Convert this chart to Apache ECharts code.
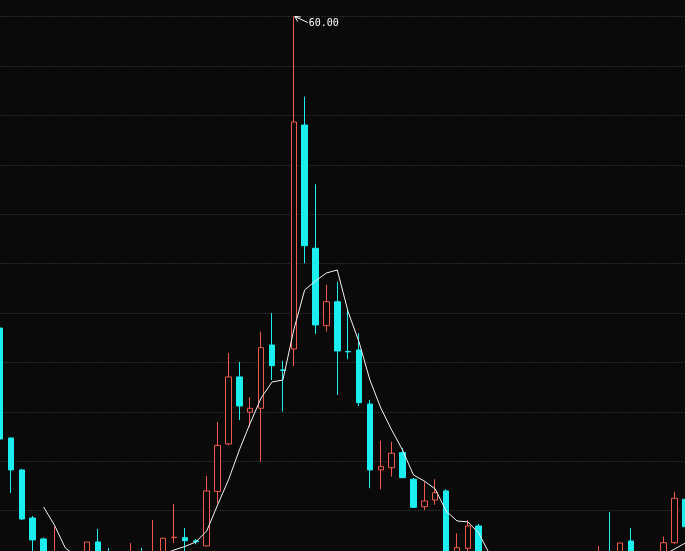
<!DOCTYPE html>
<html><head><meta charset="utf-8">
<script src="https://cdn.jsdelivr.net/npm/echarts@6/dist/echarts.min.js"></script>
<style>html,body{margin:0;padding:0;background:#0a0a0a}#c{width:685px;height:551px}</style>
</head><body><div id="c"></div>
<script>
const categories = ['1','2','3','4','5','6','7','8','9','10','11','12','13','14','15','16','17','18','19','20','21','22','23','24','25','26','27','28','29','30','31','32','33','34','35','36','37','38','39','40','41','42','43','44','45','46','47','48','49','50','51','52','53','54','55','56','57','58','59','60','61','62','63','64'];

const opens = [28.48,17.36,14.12,9.26,7.14,5.2,5.4,4.9,5.3,6.83,5.8,5.5,5.4,5.8,5.5,5.6,7.27,7.27,6.95,6.43,
  11.94,16.75,23.53,19.96,20.36,26.76,24.24,26.36,49.02,36.55,28.72,31.14,26.11,26.26,20.79,14.12,14.35,15.87,13.18,10.40,
  11.08,12.00,5.6,6.19,8.45,5.3,5.0,5.1,4.8,4.6,4.9,4.7,4.8,5.1,4.9,5.2,5.8,5.5,6.93,5.6,
  5.3,5.6,6.76,11.15];
const closes = [17.25,14.12,9.16,7.04,5.3,5.8,5.0,5.3,6.83,5.5,5.4,5.7,5.8,5.5,5.85,7.21,7.31,6.96,6.85,12.00,
  16.60,23.53,20.59,20.36,26.49,24.67,24.19,49.33,36.81,28.79,31.14,26.16,26.07,20.93,14.12,14.45,15.81,13.34,10.34,10.98,
  11.82,5.5,6.26,8.45,5.6,5.0,5.2,4.8,4.6,4.9,4.7,4.8,5.1,4.9,5.2,5.7,5.3,6.73,5.6,5.3,
  5.6,6.76,11.25,8.38];
const lows = [17.05,11.79,9.06,5.42,5.0,5.0,4.7,4.7,5.1,5.2,5.2,5.3,5.2,5.3,5.3,5.4,6.73,5.8,6.6,6.40,
  10.75,16.6,19.18,18.47,14.96,23.22,20.02,24.64,35.03,27.88,28.11,21.71,25.32,20.59,12.27,12.17,13.44,13.34,10.27,10.07,
  10.58,5.3,5.4,5.8,5.4,4.8,4.8,4.6,4.4,4.5,4.5,4.5,4.6,4.7,4.7,5.0,5.1,5.3,5.4,5.1,
  5.1,5.4,6.6,8.2];
const highs = [28.69,17.36,14.22,9.46,7.27,8.35,5.6,5.6,6.83,8.15,6.23,5.8,6.73,6.23,9.06,7.27,10.68,8.25,7.14,13.51,
  18.99,25.96,25.05,21.47,28.11,29.97,25.15,60.00,51.89,43.02,32.84,33.17,30.31,27.95,21.20,17.08,16.95,16.34,13.31,12.93,
  13.18,12.17,7.71,9.06,8.66,5.5,5.4,5.3,5.0,5.1,5.1,5.0,5.3,5.4,5.4,6.43,9.87,6.73,8.25,5.8,
  5.8,7.37,11.92,11.2];
const ma5 = [null,null,null,null,10.38,8.55,6.23,5.4,4.9,4.6,4.5,4.6,4.8,5.0,5.3,5.6,6.02,6.38,6.83,7.95,
  10.58,13.11,16.14,18.87,21.40,23.02,23.22,28.28,32.33,33.24,34.05,34.35,30.10,27.07,23.22,20.39,18.16,16.14,13.61,13.00,
  12.20,9.97,8.96,8.86,7.74,5.6,5.3,5.0,4.8,4.7,4.6,4.5,4.5,4.6,4.7,4.8,4.9,5.0,5.1,5.2,
  5.3,5.5,6.12,6.73];
const yMin = 0, yMax = 60, yStep = 5;

const upColor = '#f0584c', downColor = '#1ceef0', bg = '#0a0a0a';
const kData = opens.map((o, i) => [o, closes[i], lows[i], highs[i]]);

const chart = echarts.init(document.getElementById('c'));
chart.setOption({
  backgroundColor: bg,
  animation: false,
  grid: { left: -5.44, right: -5.88, top: 16.5, bottom: -58.5, outerBoundsMode: 'none', containLabel: false },
  xAxis: { type: 'category', data: categories, boundaryGap: true,
    axisLine: {show:false}, axisTick: {show:false}, axisLabel: {show:false}, splitLine: {show:false} },
  yAxis: { type: 'value', min: yMin, max: yMax, interval: yStep,
    axisLine: {show:false}, axisTick: {show:false}, axisLabel: {show:false},
    splitLine: { show: true, lineStyle: { color: '#4a4a4a', width: 1, type: [1, 2] } } },
  series: [
    { type: 'candlestick', data: kData, barWidth: 6, clip: false,
      itemStyle: { color: bg, color0: downColor, borderColor: upColor, borderColor0: downColor, borderWidth: 1 } },
    { type: 'line', data: ma5, showSymbol: false, symbol: 'none', smooth: false,
      lineStyle: { color: '#f2f2f2', width: 1 } }
  ]
});

let mi = 0;
highs.forEach((h, i) => { if (h > highs[mi]) mi = i; });
const p = chart.convertToPixel({ seriesIndex: 0 }, [mi, highs[mi]]);
const px = p[0] + 1, py = p[1];
chart.setOption({
  graphic: [
    { type: 'line', shape: { x1: px, y1: py, x2: px + 13, y2: py + 6 }, style: { stroke: '#ffffff', lineWidth: 1 } },
    { type: 'polyline', shape: { points: [[px + 6, py + 0.5], [px, py], [px + 3, py + 5]] }, style: { stroke: '#ffffff', lineWidth: 1, fill: null } },
    { type: 'text', x: px + 14, y: py + 6.5, style: { text: highs[mi].toFixed(2), fill: '#ffffff',
        font: '10px "DejaVu Sans Mono", monospace', verticalAlign: 'middle', align: 'left' } }
  ]
});
</script>
</body></html>
